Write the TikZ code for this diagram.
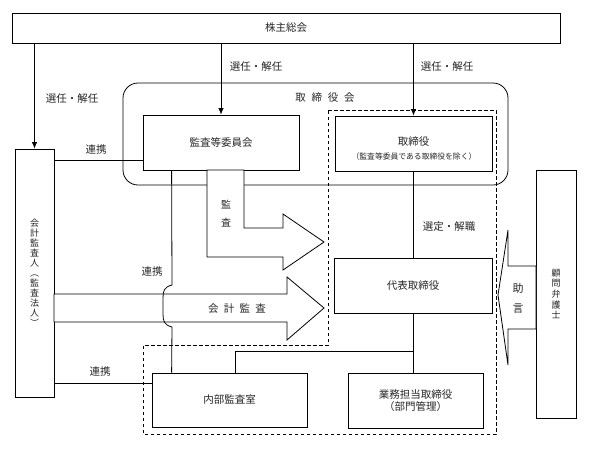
\documentclass[tikz,border=0pt]{standalone}
\usepackage{fontspec}
\setmainfont{Noto Sans CJK JP}
\usetikzlibrary{arrows.meta}
\begin{document}
\begin{tikzpicture}[x=1pt,y=-1pt,line width=0.8pt,
  every node/.style={font=\fontsize{10.5}{12}\selectfont, text=black!85},
  box/.style={draw, rectangle, inner sep=0pt, fill=white},
  arr/.style={-{Latex[length=6.5pt,width=5.5pt]}},
  bigarr/.style={draw, fill=white, line join=miter},
  dashline/.style={dash pattern=on 3.5pt off 2.5pt}]
\useasboundingbox (0,0) rectangle (589,448);

% board of directors (rounded frame)
\draw[rounded corners=15pt] (123,83) rectangle (508,185);
\node (torikai) at (325,98) {取\hspace{0.55em}締\hspace{0.55em}役\hspace{0.55em}会};

% dashed executive region
\draw[dashline] (328,110) -- (496,110) -- (496,434) -- (143,434) -- (143,345) -- (328,345) -- cycle;

% boxes
\node[box, minimum width=548pt, minimum height=30pt] (soukai) at (286,28) {株主総会};
\node[box, minimum width=39pt, minimum height=248pt, align=center,
      font=\fontsize{9}{10}\selectfont] (kaikei) at (34.5,273)
      {会\\計\\監\\査\\人\\︵\\監\\査\\法\\人\\︶};
\node[box, minimum width=156pt, minimum height=55pt] (kansa) at (221,142.5) {監査等委員会};
\node[box, minimum width=157pt, minimum height=55pt] (tori) at (413.5,143.5) {};
\node (toriT) at (413.5,142) {取締役};
\node[font=\fontsize{7.8}{9}\selectfont] (toriS) at (414,157) {（監査等委員である取締役を除く）};
\node[box, minimum width=158pt, minimum height=55pt] (daihyo) at (413,285.5) {代表取締役};
\node[box, minimum width=135pt, minimum height=55pt, align=center,
      font=\fontsize{10.5}{12}\selectfont] (gyomu) at (415.5,400.5) {業務担当取締役\\（部門管理）};
\node[box, minimum width=155pt, minimum height=54pt] (naibu) at (229.5,400) {内部監査室};
\node[box, minimum width=40pt, minimum height=248pt, align=center,
      font=\fontsize{9}{10.6}\selectfont] (komon) at (556,294) {顧\\問\\弁\\護\\士};

% election arrows
\draw[arr] (soukai.south -| kaikei.north) -- (kaikei.north);
\draw[arr] (soukai.south -| kansa.north) -- (kansa.north);
\draw[arr] (soukai.south -| tori.north) -- (tori.north);
\node (sen1) at (72,99) {選任・解任};
\node (sen2) at (256,67) {選任・解任};
\node (sen3) at (447,67) {選任・解任};

% selection / dismissal
\draw (tori.south) -- (tori.south |- daihyo.north);
\node (sentei) at (449,227) {選定・解職};
\draw (daihyo.south) -- (daihyo.south |- gyomu.north);
\coordinate (br) at (413,351);
\draw (br) -| ([xshift=84pt]naibu.north west);

% coordination lines
\coordinate (ra) at (54,160);
\draw (ra) -- (ra -| kansa.west);
\node (ren1) at (96,150) {連携};
\coordinate (rb) at (54,383);
\draw (rb) -- (rb -| naibu.west);
\node (ren2) at (100,372) {連携};

% audit arrow
\draw[bigarr] (207,170) -- (207,257) -- (283,257) -- (283,270) -- (324,242)
  -- (283,214) -- (283,228) -- (244,228) -- (244,170) -- cycle;
\node[align=center, font=\fontsize{10}{18}\selectfont] (kansaL) at (226,214) {監\\査};

% accounting audit arrow
\draw[bigarr] (54,294) -- (287,294) -- (287,277) -- (324,308) -- (287,340)
  -- (287,322) -- (54,322) -- cycle;
\node (kaikeiL) at (237,309) {会\hspace{0.5em}計\hspace{0.5em}監\hspace{0.5em}査};

% vertical coordination line with hop
\coordinate (h1) at (172,285);
\coordinate (h2) at (172,327);
\draw ([xshift=29pt]kansa.south west) -- (h1)
  .. controls (164,287) and (163,291) .. (163,298) -- (163,314)
  .. controls (163,321) and (164,325) .. (h2) -- ([xshift=20pt]naibu.north west);
\node (ren3) at (152,272) {連携};

% advice arrow
\draw[bigarr] (536,266) -- (508,266) -- (508,230) -- (498,295) -- (508,365)
  -- (508,329) -- (536,329) -- cycle;
\node[align=center, font=\fontsize{11}{20}\selectfont] (jogen) at (518,298) {助\\言};
\end{tikzpicture}
\end{document}
